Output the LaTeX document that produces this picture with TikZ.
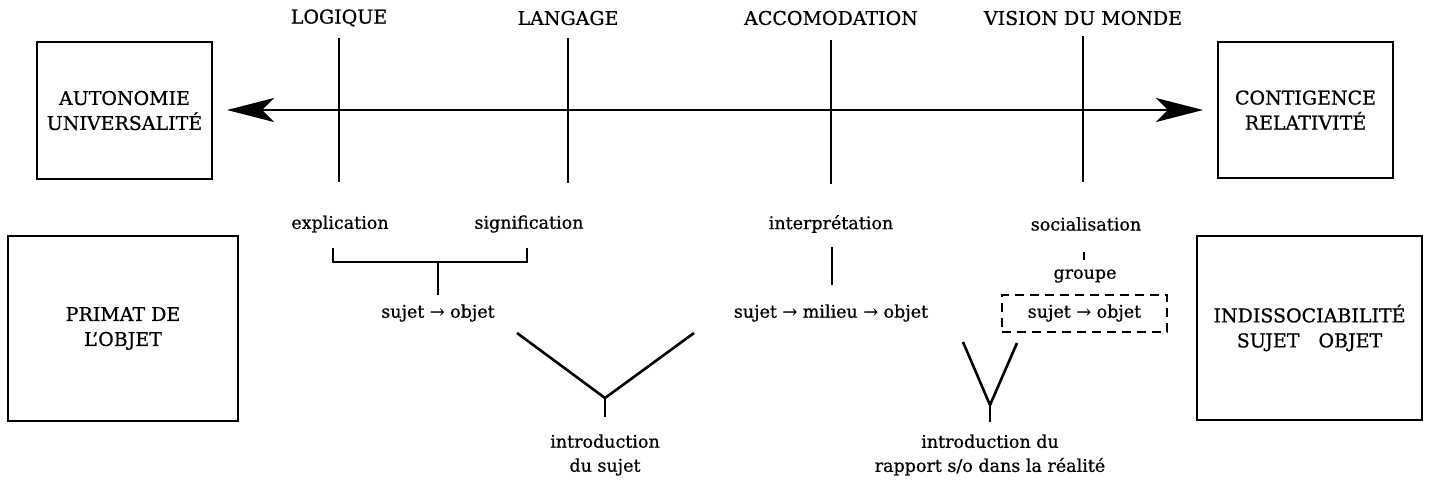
\documentclass[tikz,border=0pt]{standalone}
\usepackage{fontspec}
\setmainfont{DejaVu Serif}[FakeBold=0.7]
\usetikzlibrary{arrows.meta}
\begin{document}
\begin{tikzpicture}[x=1pt,y=-1pt,
  bigbox/.style={draw,line width=2.8pt,rectangle},
  lbl/.style={font=\fontsize{17.5}{24}\selectfont,inner sep=1pt,align=center},
  capslbl/.style={font=\fontsize{19}{25}\selectfont,inner sep=1pt,align=center},
  ln/.style={line width=2.6pt},
  bigarrow/.style={line width=2.4pt,{Stealth[length=47pt,width=24pt,inset=12pt]}-{Stealth[length=47pt,width=24pt,inset=12pt]}}]
\useasboundingbox (0,0) rectangle (1433,482);
% boxes
\node[bigbox,minimum width=175pt,minimum height=137pt,capslbl] (auto) at (124.5,110.5) {AUTONOMIE\\UNIVERSALITÉ};
\node[bigbox,minimum width=230pt,minimum height=185pt,capslbl] (primat) at (123,328.5) {PRIMAT DE\\L'OBJET};
\node[bigbox,minimum width=175pt,minimum height=136pt,capslbl] (conti) at (1305.5,110) {CONTIGENCE\\RELATIVITÉ};
\node[bigbox,minimum width=225pt,minimum height=184pt,capslbl] (indis) at (1309.5,328) {INDISSOCIABILITÉ\\SUJET\quad OBJET};
% main arrow
\coordinate (aL) at (227,110);
\coordinate (aR) at (1203,110);
\draw[bigarrow] (aL) -- (aR);
% top labels and vertical bars
\node[capslbl] (logique) at (339,18) {LOGIQUE};
\node[capslbl] (langage) at (568,18) {LANGAGE};
\node[capslbl] (accom) at (831,18) {ACCOMODATION};
\node[capslbl] (vision) at (1083,18) {VISION DU MONDE};
\coordinate (v1t) at (339,38); \coordinate (v1b) at (339,182);
\coordinate (v2t) at (568,38); \coordinate (v2b) at (568,183);
\coordinate (v3t) at (831,40); \coordinate (v3b) at (831,184);
\coordinate (v4t) at (1083,36); \coordinate (v4b) at (1083,182);
\draw[ln] (v1t) -- (v1b);
\draw[ln] (v2t) -- (v2b);
\draw[ln] (v3t) -- (v3b);
\draw[ln] (v4t) -- (v4b);
% second row
\node[lbl] (expl) at (340,224) {explication};
\node[lbl] (signi) at (529,224) {signification};
\node[lbl] (interp) at (831,224) {interprétation};
\node[lbl] (social) at (1086,224) {socialisation};
% bracket
\coordinate (bl) at (333,248); \coordinate (blb) at (333,262);
\coordinate (br) at (527,248); \coordinate (brb) at (527,262);
\coordinate (bs) at (438,262);
\node[lbl] (so1) at (438,313) {sujet → objet};
\draw[ln] (bl) -- (blb) -- (brb) -- (br);
\draw[ln] (bs) -- (438,295);
% interpretation
\node[lbl] (smo) at (831,313) {sujet → milieu → objet};
\draw[ln] (832,247) -- (832,285);
% socialisation
\draw[ln] (1084,252) -- (1084,260);
\node[lbl] (groupe) at (1085,276) {groupe};
\node[lbl] (so2) at (1084.5,313) {sujet → objet};
\node[draw,line width=2.6pt,dash pattern=on 9pt off 6pt,minimum width=165pt,minimum height=37pt] (dbox) at (1084.5,313.5) {};
% V shapes
\node[lbl] (intro1) at (605,455) {introduction\\du sujet};
\coordinate (V1l) at (517,333); \coordinate (V1r) at (694,333); \coordinate (V1b) at (605,398);
\draw[ln] (V1l) -- (V1b) -- (V1r);
\draw[ln] (V1b) -- (605,417);
\node[lbl] (intro2) at (990,455) {introduction du\\rapport s/o dans la réalité};
\coordinate (V2l) at (963,342); \coordinate (V2r) at (1017,343); \coordinate (V2b) at (990,405);
\draw[ln] (V2l) -- (V2b) -- (V2r);
\draw[ln] (V2b) -- (990,422);
\end{tikzpicture}
\end{document}
